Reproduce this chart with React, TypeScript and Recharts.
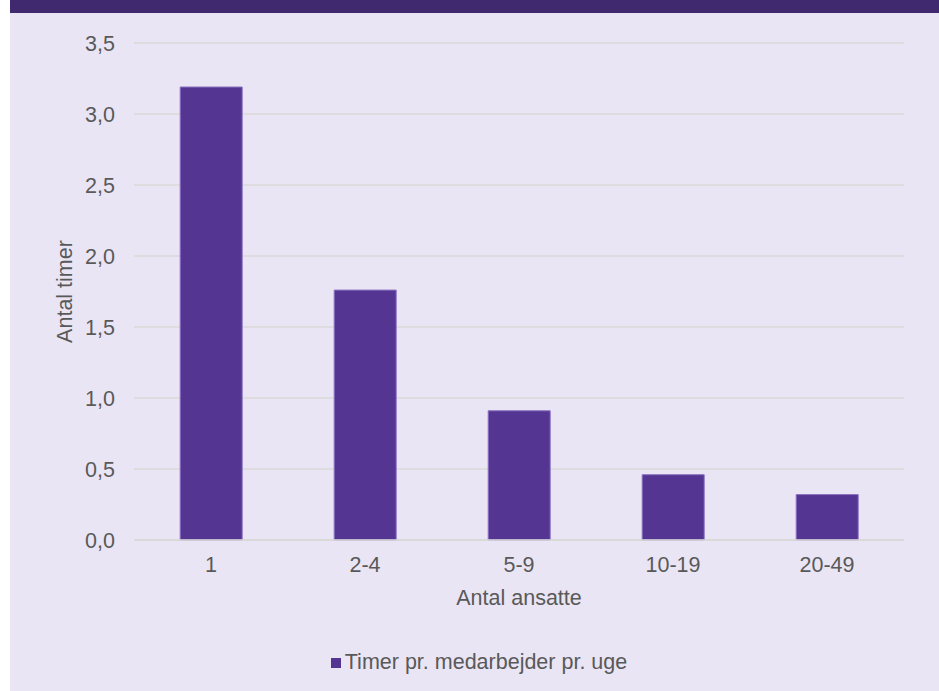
import { BarChart, Bar, XAxis, YAxis, CartesianGrid, Legend } from "recharts";

const groups = ["1", "2-4", "5-9", "10-19", "20-49"];
const hours = [3.19, 1.76, 0.91, 0.46, 0.32];
const yTicks = [0, 0.5, 1, 1.5, 2, 2.5, 3, 3.5];

const data = groups.map((g, i) => ({ group: g, hours: hours[i] }));

const textColor = "#595959";
const barColor = "#553592";
const fs = 21.5;

function App() {
  return (
    <div
      style={{
        position: "absolute",
        left: 0,
        top: 0,
        width: 939,
        height: 691,
        background: "#ffffff",
        fontFamily: "'Liberation Sans', Arial, sans-serif",
      }}
    >
      <div
        style={{
          position: "absolute",
          left: 10,
          top: 0,
          width: 929,
          height: 13,
          background: "#40296e",
        }}
      />
      <div
        style={{
          position: "absolute",
          left: 10,
          top: 13,
          width: 929,
          height: 678,
          background: "#e9e5f4",
        }}
      >
        <BarChart
          width={929}
          height={678}
          data={data}
          margin={{ top: 30, right: 35, bottom: 17, left: 0 }}
          barCategoryGap="30%"
        >
          <CartesianGrid vertical={false} stroke="#d9d9d9" strokeWidth={1.5} />
          <XAxis
            dataKey="group"
            tickLine={false}
            axisLine={{ stroke: "#d9d9d9", strokeWidth: 1.5 }}
            tick={{ fill: textColor, fontSize: fs }}
            tickMargin={11}
            height={110}
            label={{
              value: "Antal ansatte",
              position: "insideTop",
              offset: 50,
              fill: textColor,
              fontSize: fs,
            }}
          />
          <YAxis
            domain={[0, 3.5]}
            ticks={yTicks}
            width={124}
            tickLine={false}
            axisLine={false}
            tickMargin={13}
            tick={{ fill: textColor, fontSize: fs }}
            tickFormatter={(v: number) => v.toFixed(1).replace(".", ",")}
            label={{
              value: "Antal timer",
              position: "insideLeft",
              angle: -90,
              offset: 54,
              textAnchor: "middle",
              fill: textColor,
              fontSize: fs,
            }}
          />
          <Legend
            verticalAlign="bottom"
            iconType="square"
            iconSize={10}
            wrapperStyle={{ height: 24, lineHeight: "24px", fontSize: fs, paddingLeft: 27 }}
            formatter={(value: string) => (
              <span style={{ color: textColor }}>{value}</span>
            )}
          />
          <Bar
            dataKey="hours"
            name="Timer pr. medarbejder pr. uge"
            fill={barColor}
            stroke="#8a72c2"
            strokeWidth={1}
            isAnimationActive={false}
          />
        </BarChart>
      </div>
    </div>
  );
}

export default App;
